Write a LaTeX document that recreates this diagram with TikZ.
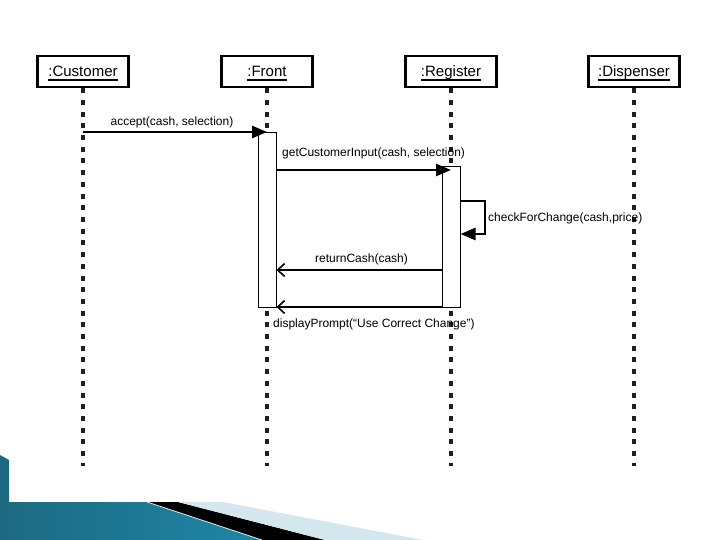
\documentclass[tikz,border=0pt]{standalone}
\usepackage{fontspec}
\setmainfont{Liberation Sans}
\usetikzlibrary{arrows.meta,calc}
\definecolor{tealdark}{HTML}{1D6A80}
\definecolor{tealmid}{HTML}{1E86A8}
\definecolor{teallight}{HTML}{4DB2D8}
\definecolor{paleblue}{HTML}{D5E7EE}
\begin{document}
\begin{tikzpicture}[x=1pt,y=-1pt,
  headbox/.style={draw,line width=2.6pt,minimum width=91pt,minimum height=31pt,inner sep=0pt},
  headtext/.style={inner sep=0pt,anchor=base,font=\fontsize{15}{15}\selectfont},
  uline/.style={line width=1.6pt},
  life/.style={line width=3.3pt,dash pattern=on 5pt off 6.7pt,color=black!88},
  actbox/.style={draw,line width=1pt,fill=white,minimum width=18pt,inner sep=0pt},
  sync/.style={line width=2.6pt,-{Triangle[length=15pt,width=12pt]}},
  reply/.style={line width=2pt,-{Straight Barb[length=7pt,width=13pt,line width=1.6pt]}},
  lbl/.style={inner sep=0pt,font=\fontsize{12}{12}\selectfont}
]
\fill[white] (0,0) rectangle (720,540);
\useasboundingbox (0,0) rectangle (720,540);

% bottom decoration
\shade[left color=tealdark,middle color=teallight,right color=tealmid,shading angle=90]
  (0,502) -- (147,502) -- (262,540) -- (0,540) -- cycle;
\fill[tealdark] (0,455) -- (9,460) -- (9,502) -- (0,502) -- cycle;
\fill[black] (147,502) -- (178,502) -- (325,540) -- (262,540) -- cycle;
\fill[paleblue] (178,502) -- (223,502) -- (423,540) -- (325,540) -- cycle;
\draw[white!80!teallight,line width=0.8pt] (147,502) -- (262,540);

% headers
\foreach \nm/\xx/\tx in {c/83/Customer, f/267/Front, r/451/Register, d/634/Dispenser}{
  \node[headbox] (h\nm) at (\xx,71.5) {};
  \node[headtext] (t\nm) at (\xx,77) {:\tx};
  \draw[uline] ($(t\nm.base west)+(0,3)$) -- ($(t\nm.base east)+(0,3)$);
  \coordinate (e\nm) at (\xx,466);
  \draw[life] (h\nm.south) -- (e\nm);
}

% activations
\node[actbox,minimum height=174pt] (fa) at (267,220) {};
\node[actbox,minimum height=140pt] (ra) at (451,237) {};

% message levels
\coordinate (y1) at (0,132);
\coordinate (y2) at (0,170);
\coordinate (y3a) at (0,201);
\coordinate (y3b) at (0,234);
\coordinate (y4) at (0,270);
\coordinate (y5) at (0,307);
\coordinate (loop) at (485,0);

\draw[sync] (hc.south |- y1) -- (fa.center |- y1);
\node[lbl,anchor=base] (l1) at (172,126) {accept(cash, selection)};

\draw[sync] (fa.east |- y2) -- (ra.center |- y2);
\node[lbl,anchor=base west] (l2) at (282,157) {getCustomerInput(cash, selection)};

\draw[sync] (ra.east |- y3a) -- (loop |- y3a) -- (loop |- y3b) -- (ra.east |- y3b);
\node[lbl,anchor=base west] (l3) at (488,222) {checkForChange(cash,price)};

\draw[reply] (ra.west |- y4) -- (fa.east |- y4);
\node[lbl,anchor=base west] (l4) at (315,262) {returnCash(cash)};

\draw[reply,line width=2.4pt] (ra.west |- y5) -- (fa.east |- y5);
\node[lbl,anchor=base west] (l5) at (273,327) {displayPrompt(“Use Correct Change”)};
\end{tikzpicture}
\end{document}
